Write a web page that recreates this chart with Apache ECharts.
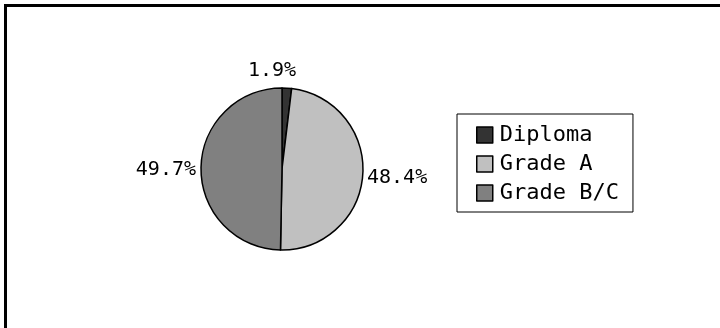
<!DOCTYPE html>
<html>
<head>
<meta charset="utf-8">
<script src="https://cdn.jsdelivr.net/npm/echarts@6/dist/echarts.min.js"></script>
<style>
  html, body { margin: 0; padding: 0; background: #fff; }
  #chart { width: 720px; height: 328px; }
</style>
</head>
<body>
<div id="chart"></div>
<script>
// Share of results by grade
const categories = ['Diploma', 'Grade A', 'Grade B/C'];
const shares = [1.9, 48.4, 49.7];
const sliceColors = ['#333333', '#c0c0c0', '#808080'];

// Where each percentage label sits around the pie
const labelSpots = [
  { x: 272, y: 71, align: 'center' },
  { x: 367, y: 178, align: 'left' },
  { x: 196, y: 170, align: 'right' }
];

const monoFont = '"DejaVu Sans Mono", "Liberation Mono", monospace';

const chart = echarts.init(document.getElementById('chart'), null, { renderer: 'canvas' });

chart.setOption({
  backgroundColor: '#ffffff',
  animation: false,
  graphic: [{
    type: 'rect',
    shape: { x: 5.5, y: 5.5, width: 760, height: 360 },
    style: { fill: 'none', stroke: '#000', lineWidth: 3 },
    silent: true
  }],
  legend: {
    orient: 'vertical',
    left: 457,
    top: 114,
    padding: [10, 14, 8, 19],
    itemGap: 7,
    itemWidth: 16,
    itemHeight: 16,
    icon: 'rect',
    borderColor: '#000',
    borderWidth: 1,
    data: categories,
    itemStyle: { borderColor: '#000', borderWidth: 1.5 },
    textStyle: {
      fontFamily: monoFont,
      fontSize: 22,
      lineHeight: 22,
      color: '#000',
      padding: [0, 0, 0, 2]
    }
  },
  series: [{
    type: 'pie',
    center: [282, 169],
    radius: 81,
    startAngle: 90,
    clockwise: true,
    avoidLabelOverlap: false,
    data: categories.map((name, i) => ({
      name,
      value: shares[i],
      itemStyle: { color: sliceColors[i] }
    })),
    itemStyle: { borderColor: '#000', borderWidth: 1.5 },
    label: {
      show: true,
      position: 'outside',
      formatter: p => p.value.toFixed(1) + '%',
      fontFamily: monoFont,
      fontSize: 20,
      color: '#000'
    },
    labelLine: { show: false },
    labelLayout: p => {
      const s = labelSpots[p.dataIndex];
      return { x: s.x, y: s.y, align: s.align, verticalAlign: 'middle' };
    },
    emphasis: { disabled: true }
  }]
});
</script>
</body>
</html>
